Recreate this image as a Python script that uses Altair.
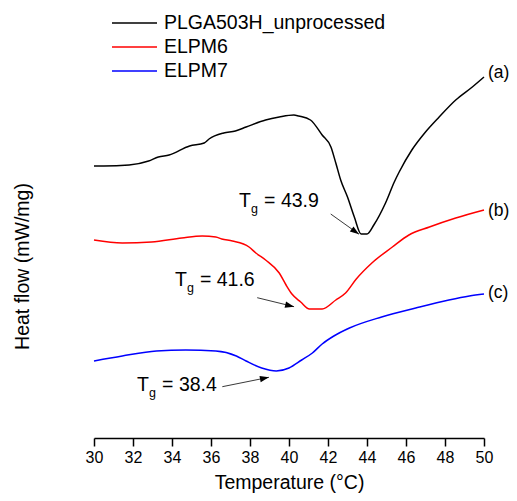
import altair as alt
import pandas as pd
import numpy as np

# ---------------- data ----------------
series_names = ["PLGA503H_unprocessed", "ELPM6", "ELPM7"]
series_colors = ["#000000", "#ff0000", "#0000ff"]

temp_a = [30.0, 30.5, 31.8, 32.8, 33.3, 33.85, 34.9, 35.65, 35.9, 36.65, 37.25, 37.8,
          38.8, 39.5, 40.25, 40.5, 41.1, 41.7, 42.15, 42.4, 42.65, 43.0, 43.35, 43.7,
          44.0, 44.35, 44.95, 45.4, 45.65, 46.3, 47.0, 47.7, 48.55, 49.4, 50.0]
hf_a = [2.72, 2.72, 2.73, 2.77, 2.81, 2.83, 2.92, 2.95, 2.99, 3.05, 3.07, 3.11,
        3.18, 3.21, 3.23, 3.22, 3.18, 3.03, 2.91, 2.75, 2.58, 2.41, 2.21, 2.04,
        2.04, 2.13, 2.35, 2.56, 2.66, 2.88, 3.06, 3.21, 3.38, 3.51, 3.61]

temp_b = [30.0, 31.45, 32.95, 34.5, 35.55, 36.25, 36.55, 37.1, 37.95, 38.3, 38.8, 39.5,
          39.85, 40.15, 40.6, 41.05, 41.7, 42.4, 42.9, 43.45, 44.25, 45.3, 46.15, 47.2,
          48.55, 50.0]
hf_b = [1.98, 1.95, 1.96, 2.00, 2.02, 2.01, 1.99, 1.97, 1.91, 1.85, 1.78, 1.65,
        1.53, 1.44, 1.36, 1.29, 1.29, 1.38, 1.45, 1.59, 1.75, 1.91, 2.03, 2.11,
        2.20, 2.28]

temp_c = [30.0, 31.45, 33.2, 34.7, 36.25, 37.3, 37.8, 38.6, 39.35, 40.0, 40.65, 41.2,
          41.7, 42.3, 43.1, 44.75, 46.5, 48.2, 49.25, 50.0]
hf_c = [0.77, 0.82, 0.87, 0.88, 0.87, 0.82, 0.77, 0.70, 0.67, 0.70, 0.78, 0.85,
        0.94, 1.02, 1.10, 1.21, 1.30, 1.38, 1.42, 1.44]

x_ticks = [30, 32, 34, 36, 38, 40, 42, 44, 46, 48, 50]

end_labels = ["(a)", "(b)", "(c)"]
end_label_t = [50.0, 50.0, 50.0]
end_label_hf = [3.65, 2.27, 1.45]

tg_temp = [37.44, 34.15, 32.21]
tg_hf = [2.313, 1.52, 0.47]
tg_values = ["= 43.9", "= 41.6", "= 38.4"]

arrow_t0 = [42.14, 38.37, 36.58]
arrow_h0 = [2.24, 1.403, 0.513]
arrow_t1 = [43.59, 40.26, 38.97]
arrow_h1 = [2.038, 1.313, 0.607]

# ---------------- layout ----------------
W, H = 390, 430
X_DOM = [30, 50]
Y_DOM = [0.0, 4.30]
FONT = "Liberation Sans"

rows = []
for name, ts, hs in zip(series_names, [temp_a, temp_b, temp_c], [hf_a, hf_b, hf_c]):
    for t, h in zip(ts, hs):
        rows.append({"series": name, "T": t, "HF": h})
df = pd.DataFrame(rows)

lab_df = pd.DataFrame({"T": end_label_t, "HF": end_label_hf, "txt": end_labels})
tg_df = pd.DataFrame({"T": tg_temp, "HF": tg_hf, "val": tg_values})

px_x = W / (X_DOM[1] - X_DOM[0])
px_y = H / (Y_DOM[1] - Y_DOM[0])
dxp = (np.array(arrow_t1) - np.array(arrow_t0)) * px_x
dyp = -(np.array(arrow_h1) - np.array(arrow_h0)) * px_y
angles = np.degrees(np.arctan2(dyp, dxp)) % 360
arr_df = pd.DataFrame({"T": arrow_t0, "HF": arrow_h0, "T2": arrow_t1, "HF2": arrow_h1,
                       "ang": angles})

x_scale = alt.Scale(domain=X_DOM, nice=False, zero=False)
y_scale = alt.Scale(domain=Y_DOM, nice=False, zero=False)

x_axis = alt.Axis(values=x_ticks, title="Temperature (°C)", grid=False,
                  domainColor="black", domainWidth=1.5, tickColor="black", tickWidth=1.5,
                  tickSize=8, labelFont=FONT, labelFontSize=16, labelColor="black",
                  labelPadding=3, labelFlush=False, labelOverlap=False,
                  titleFont=FONT, titleFontSize=19.5,
                  titleFontWeight="normal", titleColor="black", titleY=50,
                  titleBaseline="alphabetic")
y_axis = alt.Axis(title="Heat flow (mW/mg)", grid=False, domain=False, ticks=False,
                  labels=False, titleFont=FONT, titleFontSize=19.5,
                  titleFontWeight="normal", titleColor="black", titleX=-71.5,
                  titleY=258, titleBaseline="middle", titleAngle=270)

X = alt.X("T:Q", scale=x_scale, axis=x_axis)
Y = alt.Y("HF:Q", scale=y_scale, axis=y_axis)

lines = alt.Chart(df).mark_line(strokeWidth=1.5, interpolate="monotone").encode(
    x=X, y=Y,
    color=alt.Color("series:N",
                    scale=alt.Scale(domain=series_names, range=series_colors),
                    legend=alt.Legend(title=None, orient="none", legendX=17, legendY=5,
                                      symbolType="stroke", symbolSize=2025,
                                      symbolStrokeWidth=1.5, labelFont=FONT,
                                      labelFontSize=19.5, labelColor="black",
                                      labelLimit=0, clipHeight=20,
                                      labelOffset=6, rowPadding=4, padding=0)),
)

end_text = alt.Chart(lab_df).mark_text(align="left", baseline="middle", dx=4,
                                       font=FONT, fontSize=17.5, color="black").encode(
    x=X, y=Y, text="txt:N")

t_text = alt.Chart(tg_df).mark_text(align="left", baseline="alphabetic", text="T",
                                    font=FONT, fontSize=19.5, color="black").encode(x=X, y=Y)
g_text = alt.Chart(tg_df).mark_text(align="left", baseline="alphabetic", text="g", dx=12,
                                    dy=6, font=FONT, fontSize=12.5, color="black").encode(x=X, y=Y)
v_text = alt.Chart(tg_df).mark_text(align="left", baseline="alphabetic", dx=25,
                                    font=FONT, fontSize=19.5, color="black").encode(
    x=X, y=Y, text="val:N")

arrow_line = alt.Chart(arr_df).mark_rule(strokeWidth=0.9, color="#222222").encode(
    x=X, y=Y, x2="T2:Q", y2="HF2:Q")
arrow_head = alt.Chart(arr_df).mark_point(shape="M0,0L-2,-0.7L-2,0.7Z", filled=True,
                                          size=81, color="black", opacity=1).encode(
    x=alt.X("T2:Q", scale=x_scale, axis=x_axis), y=alt.Y("HF2:Q", scale=y_scale, axis=y_axis),
    angle=alt.Angle("ang:Q", scale=None))

chart = alt.layer(lines, end_text, t_text, g_text, v_text, arrow_line, arrow_head).properties(
    width=W, height=H,
    autosize=alt.AutoSizeParams(type="none"),
    padding={"left": 86, "top": 0, "right": 25, "bottom": 55},
).configure_view(stroke="transparent")

chart.save("out.html", embed_options={"renderer": "svg", "actions": False})
